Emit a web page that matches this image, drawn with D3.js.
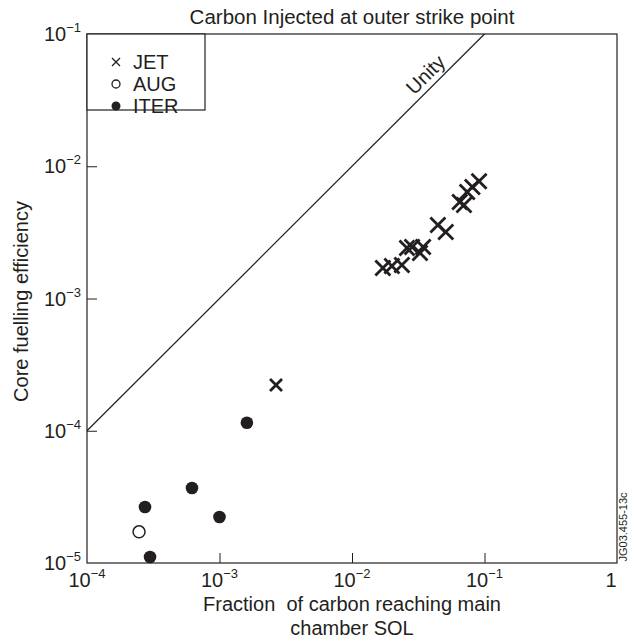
<!DOCTYPE html>
<html>
<head>
<meta charset="utf-8">
<script src="https://cdn.jsdelivr.net/npm/d3@7"></script>
<style>
  body { margin: 0; background: #fff; }
  text { font-family: "Liberation Sans", Arial, sans-serif; fill: #231f20; }
</style>
</head>
<body>
<div id="chart"></div>
<script>
// JET crosses
const jetX = [0.0171, 0.0200, 0.0238, 0.0260, 0.0284, 0.0326, 0.0344, 0.0445, 0.0510, 0.0650, 0.0700, 0.0740, 0.0810, 0.0910, 0.00267];
const jetY = [0.00170, 0.00176, 0.00179, 0.00241, 0.00245, 0.00221, 0.00245, 0.00360, 0.00318, 0.00537, 0.00509, 0.00639, 0.00697, 0.00770, 0.000222];
// AUG open circle
const augX = [0.000247];
const augY = [0.0000172];
// ITER filled circles
const iterX = [0.000274, 0.000299, 0.00062, 0.00100, 0.00161];
const iterY = [0.0000265, 0.0000111, 0.0000369, 0.0000223, 0.000115];

const xTicks = [1e-4, 1e-3, 1e-2, 1e-1, 1];
const xTickExp = ['−4', '−3', '−2', '−1', ''];
const yTicks = [1e-5, 1e-4, 1e-3, 1e-2, 1e-1];
const yTickExp = ['−5', '−4', '−3', '−2', '−1'];
const unity = [1e-4, 1e-1];

const legendItems = ['JET', 'AUG', 'ITER'];

const width = 633, height = 642;
const mLeft = 87, mRight = 617, mTop = 34, mBottom = 563;
const ink = '#231f20';

const svg = d3.select('#chart').append('svg')
    .attr('width', width)
    .attr('height', height);

svg.append('rect').attr('width', width).attr('height', height).attr('fill', '#fff');

const x = d3.scaleLog().domain([1e-4, 1]).range([mLeft, mRight]);
const y = d3.scaleLog().domain([1e-5, 1e-1]).range([mBottom, mTop]);

// inward ticks
svg.append('g')
    .attr('transform', `translate(0,${mBottom})`)
    .call(d3.axisBottom(x).tickValues(xTicks.slice(1, -1)).tickSizeInner(-10).tickSizeOuter(0).tickFormat(''))
    .call(g => g.select('.domain').remove())
    .selectAll('line').attr('stroke', ink).attr('stroke-width', 1);

svg.append('g')
    .attr('transform', `translate(${mLeft},0)`)
    .call(d3.axisLeft(y).tickValues(yTicks.slice(1, -1)).tickSizeInner(-10).tickSizeOuter(0).tickFormat(''))
    .call(g => g.select('.domain').remove())
    .selectAll('line').attr('stroke', ink).attr('stroke-width', 1);

// frame
svg.append('rect')
    .attr('x', mLeft).attr('y', mTop)
    .attr('width', mRight - mLeft).attr('height', mBottom - mTop)
    .attr('fill', 'none').attr('stroke', ink).attr('stroke-width', 1.2);

// tick labels
xTicks.forEach((v, i) => {
    const t = svg.append('text')
        .attr('x', x(v)).attr('y', mBottom + 24)
        .attr('text-anchor', 'middle')
        .attr('font-size', 20);
    if (xTickExp[i]) {
        t.append('tspan').text('10');
        t.append('tspan').attr('dy', -9).attr('font-size', 13).text(xTickExp[i]);
    } else {
        t.attr('dx', -6).text('1');
    }
});

yTicks.forEach((v, i) => {
    const t = svg.append('text')
        .attr('x', mLeft - 6).attr('y', y(v) + 7)
        .attr('text-anchor', 'end')
        .attr('font-size', 20);
    t.append('tspan').text('10');
    t.append('tspan').attr('dy', -9).attr('font-size', 13).text(yTickExp[i]);
});

// titles
svg.append('text')
    .attr('x', (mLeft + mRight) / 2).attr('y', 24)
    .attr('text-anchor', 'middle').attr('font-size', 20.5)
    .text('Carbon Injected at outer strike point');

svg.append('text')
    .attr('transform', `translate(28,${(mTop + mBottom) / 2 + 3}) rotate(-90)`)
    .attr('text-anchor', 'middle').attr('font-size', 20)
    .text('Core fuelling efficiency');

svg.append('text')
    .attr('x', (mLeft + mRight) / 2).attr('y', 611)
    .attr('text-anchor', 'middle').attr('font-size', 20)
    .attr('xml:space', 'preserve')
    .text('Fraction  of carbon reaching main');

svg.append('text')
    .attr('x', (mLeft + mRight) / 2).attr('y', 635)
    .attr('text-anchor', 'middle').attr('font-size', 20)
    .text('chamber SOL');

svg.append('text')
    .attr('transform', `translate(627,527) rotate(-90)`)
    .attr('text-anchor', 'middle').attr('font-size', 11)
    .text('JG03.455-13c');

// unity line
svg.append('line')
    .attr('x1', x(unity[0])).attr('y1', y(unity[0]))
    .attr('x2', x(unity[1])).attr('y2', y(unity[1]))
    .attr('stroke', ink).attr('stroke-width', 1.2);

const ang = Math.atan2(y(unity[1]) - y(unity[0]), x(unity[1]) - x(unity[0])) * 180 / Math.PI;
svg.append('text')
    .attr('transform', `translate(${x(0.042)},${y(0.042)}) rotate(${ang})`)
    .attr('text-anchor', 'middle').attr('dy', -6).attr('font-size', 20)
    .text('Unity');

// markers
const cross = (g, cx, cy, s, w) => {
    g.append('path')
        .attr('d', `M${cx - s},${cy - s}L${cx + s},${cy + s}M${cx - s},${cy + s}L${cx + s},${cy - s}`)
        .attr('stroke', ink).attr('stroke-width', w).attr('fill', 'none');
};

const pts = svg.append('g');
jetX.forEach((v, i) => cross(pts, x(v), y(jetY[i]), i === jetX.length - 1 ? 6 : 7.5, 2.8));

pts.selectAll('.aug')
    .data(augX.map((v, i) => [v, augY[i]]))
    .enter().append('circle')
    .attr('cx', d => x(d[0])).attr('cy', d => y(d[1])).attr('r', 6)
    .attr('fill', '#fff').attr('stroke', ink).attr('stroke-width', 1.5);

pts.selectAll('.iter')
    .data(iterX.map((v, i) => [v, iterY[i]]))
    .enter().append('circle')
    .attr('cx', d => x(d[0])).attr('cy', d => y(d[1])).attr('r', 6.3)
    .attr('fill', ink);

// legend
const legend = svg.append('g');
legend.append('rect')
    .attr('x', mLeft).attr('y', mTop)
    .attr('width', 118).attr('height', 76)
    .attr('fill', '#fff').attr('stroke', ink).attr('stroke-width', 1.2);

legendItems.forEach((name, i) => {
    const ly = 62 + i * 22;
    if (i === 0) cross(legend, 116, ly, 4, 1.3);
    if (i === 1) legend.append('circle').attr('cx', 116).attr('cy', ly).attr('r', 4)
        .attr('fill', '#fff').attr('stroke', ink).attr('stroke-width', 1.3);
    if (i === 2) legend.append('circle').attr('cx', 116).attr('cy', ly).attr('r', 4.5).attr('fill', ink);
    legend.append('text')
        .attr('x', 133).attr('y', ly + 7)
        .attr('font-size', 20)
        .text(name);
});
</script>
</body>
</html>
